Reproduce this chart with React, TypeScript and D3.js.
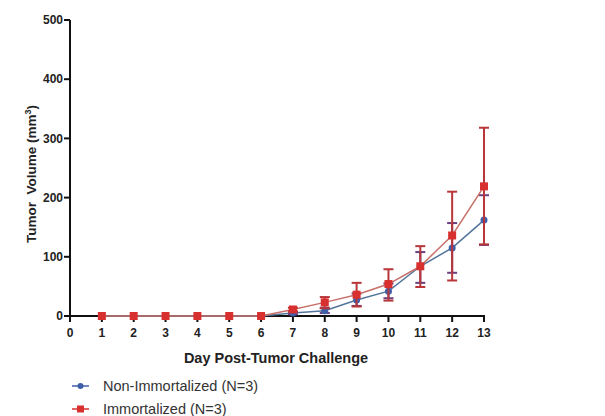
import React from "react";
import * as d3 from "d3";

const days = [1, 2, 3, 4, 5, 6, 7, 8, 9, 10, 11, 12, 13];
const xTicks = [0, 1, 2, 3, 4, 5, 6, 7, 8, 9, 10, 11, 12, 13];
const yTicks = [0, 100, 200, 300, 400, 500];

// Non-Immortalized (N=3)
const nonImmMean = [0, 0, 0, 0, 0, 0, 5, 9, 27, 42, 84, 115, 162];
const nonImmLow = [0, 0, 0, 0, 0, 0, 3, 5, 17, 30, 56, 73, 120];
const nonImmHigh = [0, 0, 0, 0, 0, 0, 7, 14, 38, 55, 108, 157, 204];

// Immortalized (N=3)
const immMean = [0, 0, 0, 0, 0, 0, 11, 23, 36, 54, 84, 136, 219];
const immLow = [0, 0, 0, 0, 0, 0, 8, 13, 16, 26, 49, 60, 121];
const immHigh = [0, 0, 0, 0, 0, 0, 14, 32, 56, 79, 118, 210, 318];

const margin = { top: 20, right: 121, bottom: 100, left: 70 };
const width = 605;
const height = 416;

const BLUE = "#3f5fa8";
const RED = "#d8302e";
const font = "'Liberation Sans', Arial, sans-serif";

export default function App() {
  const plotW = width - margin.left - margin.right;
  const plotH = height - margin.top - margin.bottom;

  const x = d3.scaleLinear().domain([0, 13]).range([0, plotW]);
  const y = d3.scaleLinear().domain([0, 500]).range([plotH, 0]);

  const line = d3
    .line<number>()
    .x((_, i) => x(days[i]))
    .y((d) => y(d));

  const series = [
    { mean: nonImmMean, low: nonImmLow, high: nonImmHigh, color: BLUE, lineColor: "#52749a", errColor: "#6a3f7e", shape: "circle" },
    { mean: immMean, low: immLow, high: immHigh, color: RED, lineColor: "#c8706a", errColor: "#b8363a", shape: "square" },
  ];

  return (
    <svg width={width} height={height} style={{ position: "absolute", left: 0, top: 0, background: "#fff" }}>
      <g transform={`translate(${margin.left},${margin.top})`}>
        {/* y axis */}
        <line x1={0} x2={0} y1={0} y2={plotH + 0.5} stroke="#111" strokeWidth={2} />
        {yTicks.map((t) => (
          <g key={t} transform={`translate(0,${y(t)})`}>
            <line x1={-6} x2={0} stroke="#111" strokeWidth={2} />
            <text x={-7} dy="0.35em" textAnchor="end" fontFamily={font} fontWeight="bold" fontSize={12} fill="#222">
              {t}
            </text>
          </g>
        ))}
        {/* x axis */}
        <line x1={-3} x2={plotW + 1} y1={plotH} y2={plotH} stroke="#111" strokeWidth={2} />
        {xTicks.map((t) => (
          <g key={t} transform={`translate(${x(t)},${plotH})`}>
            <line y1={0} y2={6} stroke="#111" strokeWidth={2} />
            <text y={21} textAnchor="middle" fontFamily={font} fontWeight="bold" fontSize={12} fill="#222">
              {t}
            </text>
          </g>
        ))}

        {series.map((s, si) => (
          <g key={si}>
            <path d={line(s.mean) || ""} fill="none" stroke={s.lineColor} strokeWidth={1.5} />
            {days.map((d, i) =>
              s.high[i] - s.low[i] > 1 ? (
                <g key={d} stroke={s.errColor} strokeWidth={2}>
                  <line x1={x(d)} x2={x(d)} y1={y(s.low[i])} y2={y(s.high[i])} />
                  <line x1={x(d) - 5} x2={x(d) + 5} y1={y(s.high[i])} y2={y(s.high[i])} />
                  <line x1={x(d) - 5} x2={x(d) + 5} y1={y(s.low[i])} y2={y(s.low[i])} />
                </g>
              ) : null
            )}
            {days.map((d, i) =>
              s.shape === "circle" ? (
                <circle key={d} cx={x(d)} cy={y(s.mean[i])} r={3.5} fill={s.color} />
              ) : (
                <rect key={d} x={x(d) - 4} y={y(s.mean[i]) - 4} width={8} height={8} fill={s.color} />
              )
            )}
          </g>
        ))}
      </g>

      {/* axis titles */}
      <text x={276} y={363} textAnchor="middle" fontFamily={font} fontWeight="bold" fontSize={14.5} fill="#222">
        Day Post-Tumor Challenge
      </text>
      <text
        transform={`translate(36,${margin.top + 154}) rotate(-90)`}
        textAnchor="middle"
        fontFamily={font}
        fontWeight="bold"
        fontSize={13.5}
        fill="#222"
        style={{ whiteSpace: "pre" }}
      >
        Tumor  Volume (mm<tspan fontSize={9} dy={-5}>3</tspan>
        <tspan dy={5}>)</tspan>
      </text>

      {/* legend */}
      <g fontFamily={font} fontSize={14.5} fill="#333">
        <line x1={72} x2={89} y1={386} y2={386} stroke={BLUE} strokeWidth={1.5} />
        <circle cx={80.5} cy={386} r={3} fill={BLUE} />
        <text x={103} y={391}>Non-Immortalized (N=3)</text>
        <line x1={72} x2={89} y1={409} y2={409} stroke={RED} strokeWidth={1.5} />
        <rect x={77} y={405.5} width={7} height={7} fill={RED} />
        <text x={103} y={414}>Immortalized (N=3)</text>
      </g>
    </svg>
  );
}
